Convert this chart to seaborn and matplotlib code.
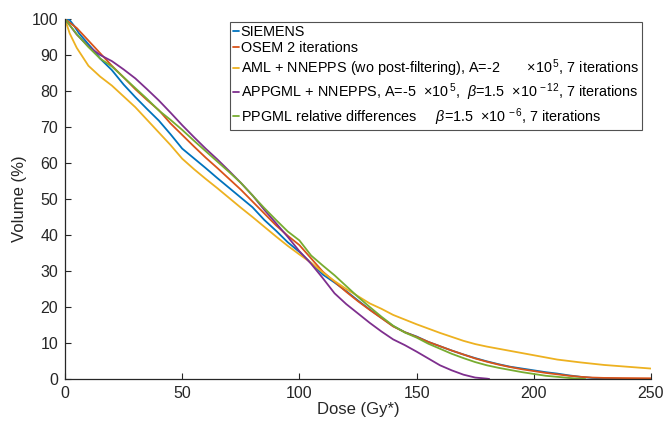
import numpy as np
import pandas as pd
import matplotlib
matplotlib.use("Agg")
import matplotlib.pyplot as plt
import seaborn as sns

# ---- data ----
dose_siemens = [0, 2, 4, 6, 8, 10, 12, 15, 20, 25, 30, 35, 40, 45, 50, 55, 60, 65, 70, 75, 80, 85, 90, 95,
                100, 105, 110, 115, 120, 125, 130, 135, 140, 145, 150, 155, 160, 165, 170, 175, 180, 185,
                190, 195, 200, 205, 210, 215, 220, 225, 230, 240]
vol_siemens = [100, 99.7, 98, 96, 94.5, 93, 91.5, 89, 85.8, 81.8, 78.3, 75, 71.8, 68, 64, 61.3, 58.6, 55.8,
               53.1, 50.4, 47.7, 44.2, 41.2, 38, 35.3, 32.2, 29, 26.8, 24.4, 21.8, 19.3, 17, 14.7, 13, 11.8,
               10.3, 9.1, 7.9, 6.8, 5.8, 4.9, 4.1, 3.4, 2.9, 2.4, 1.9, 1.5, 1.0, 0.6, 0.3, 0.15, 0.0]

dose_osem = [0, 5, 10, 15, 20, 25, 30, 35, 40, 45, 50, 55, 60, 65, 70, 75, 80, 85, 90, 95, 100, 105, 110,
             115, 120, 125, 130, 135, 140, 145, 150, 155, 160, 165, 170, 175, 180, 185, 190, 195, 200, 205,
             210, 215, 220, 225, 230, 240, 250]
vol_osem = [100, 97.5, 94, 90.5, 87, 83.8, 80.5, 77.5, 74.7, 71, 67.8, 64.6, 61.5, 58.6, 55.6, 52.6, 49.3,
            46, 42.7, 39.8, 37.2, 33.5, 29.8, 27, 24.2, 21.6, 19.2, 16.9, 14.6, 13, 11.7, 10.3, 9.1, 7.9,
            6.8, 5.7, 4.8, 4.0, 3.3, 2.7, 2.2, 1.7, 1.3, 0.9, 0.6, 0.4, 0.3, 0.25, 0.2]

dose_aml = [0, 2, 5, 8, 10, 15, 20, 25, 30, 35, 40, 45, 50, 55, 60, 65, 70, 75, 80, 85, 90, 95, 100, 105,
            110, 115, 120, 125, 130, 135, 140, 145, 150, 155, 160, 165, 170, 175, 180, 185, 190, 195, 200,
            210, 220, 230, 240, 250]
vol_aml = [100, 96, 92, 89, 87, 84, 81.5, 78.5, 75.5, 72, 68.5, 65, 61.2, 58.3, 55.6, 53, 50.3, 47.6, 45,
           42.3, 39.6, 37, 34.6, 32.3, 29.6, 27.2, 25, 23, 21, 19.5, 17.8, 16.5, 15.2, 14, 12.8, 11.7, 10.6,
           9.7, 9, 8.4, 7.8, 7.2, 6.6, 5.4, 4.6, 3.9, 3.4, 2.9]

dose_appgml = [0, 5, 10, 15, 20, 25, 30, 35, 40, 45, 50, 55, 60, 65, 70, 75, 80, 85, 90, 95, 100, 105,
               110, 115, 120, 125, 130, 135, 140, 145, 150, 155, 160, 165, 170, 175, 180, 181]
vol_appgml = [100, 95.7, 92.4, 90, 88.3, 86, 83.5, 80.5, 77.4, 74, 70.5, 67.2, 64, 61, 57.8, 54.5, 51,
              47, 43.3, 39.5, 35.5, 32, 28, 23.8, 20.8, 18.2, 15.6, 13.2, 11, 9.4, 7.6, 5.7, 3.8, 2.4,
              1.2, 0.4, 0.1, 0.0]

dose_ppgml = [0, 5, 10, 15, 20, 25, 30, 35, 40, 45, 50, 55, 60, 65, 70, 75, 80, 85, 90, 95, 100, 105,
              110, 115, 120, 125, 130, 135, 140, 145, 150, 155, 160, 165, 170, 175, 180, 185, 190, 195,
              200, 205, 210, 215, 220, 222]
vol_ppgml = [100, 95.8, 92.2, 89, 86.8, 83.8, 80.8, 77.8, 74.6, 72, 69.2, 66.2, 63.3, 60.4, 57.5, 54.5,
             51, 47.5, 44.2, 41, 38.5, 34.3, 31.5, 28.8, 25.8, 22.8, 20, 17.3, 14.8, 12.9, 11.5, 9.8, 8.4,
             7.0, 5.8, 4.7, 3.8, 3.1, 2.5, 1.9, 1.4, 0.9, 0.6, 0.3, 0.05, 0.0]

labels = [
    "SIEMENS",
    "OSEM 2 iterations",
    r"AML + NNEPPS (wo post-filtering), A=-2       $\times10^{\,5}$, 7 iterations",
    r"APPGML + NNEPPS, A=-5  $\times10^{\,5}$,  $\beta$=1.5  $\times10^{\,-12}$, 7 iterations",
    r"PPGML relative differences     $\beta$=1.5  $\times10^{\,-6}$, 7 iterations",
]
colors = ["#0072BD", "#D95319", "#EDB120", "#7E2F8E", "#77AC30"]
x_ticks = [0, 50, 100, 150, 200, 250]
y_ticks = list(range(0, 101, 10))

series = [(dose_siemens, vol_siemens), (dose_osem, vol_osem), (dose_aml, vol_aml),
          (dose_appgml, vol_appgml), (dose_ppgml, vol_ppgml)]
frames = []
for lab, (d, v) in zip(labels, series):
    frames.append(pd.DataFrame({"Dose": d, "Volume": v, "Method": lab}))
df = pd.concat(frames, ignore_index=True)

# ---- style ----
sns.set_theme(style="ticks")
plt.rcParams["font.family"] = ["Liberation Sans", "DejaVu Sans"]
plt.rcParams["mathtext.fontset"] = "custom"
plt.rcParams["mathtext.rm"] = "Liberation Sans"
plt.rcParams["mathtext.it"] = "Liberation Sans:italic"
plt.rcParams["mathtext.bf"] = "Liberation Sans:bold"

fig = plt.figure(figsize=(6.66, 4.21), dpi=100)
ax = fig.add_axes([65 / 666, 1 - 379 / 421, 586 / 666, 360 / 421])

sns.lineplot(data=df, x="Dose", y="Volume", hue="Method", hue_order=labels,
             palette=colors, linewidth=1.3, ax=ax, sort=False, estimator=None, legend=False)

axis_col = "#262626"
ax.set_xlim(0, 250)
ax.set_ylim(0, 100)
ax.set_xticks(x_ticks)
ax.set_yticks(y_ticks)
ax.tick_params(direction="in", length=4, width=0.8, colors=axis_col, labelsize=11.5,
               labelcolor=axis_col, pad=5)
for s in ["top", "right"]:
    ax.spines[s].set_visible(False)
for s in ["left", "bottom"]:
    ax.spines[s].set_color(axis_col)
    ax.spines[s].set_linewidth(0.9)
ax.set_xlabel("Dose (Gy*)", fontsize=12, color=axis_col, labelpad=1)
ax.set_ylabel("Volume (%)", fontsize=12, color=axis_col, labelpad=3)

handles = [plt.Line2D([], [], color=c, lw=1.3) for c in colors]
leg = fig.legend(handles, labels, loc="upper left",
                 bbox_to_anchor=(230 / 666, 1 - 22 / 421), bbox_transform=fig.transFigure,
                 fontsize=10.4, frameon=True, fancybox=False, borderaxespad=0,
                 handlelength=0.45, handletextpad=0.1, borderpad=0.2, labelspacing=0.17)
leg.get_frame().set_edgecolor(axis_col)
leg.get_frame().set_linewidth(0.8)
for t in leg.get_texts():
    t.set_color("black")

fig.savefig("out.png", dpi=100)
